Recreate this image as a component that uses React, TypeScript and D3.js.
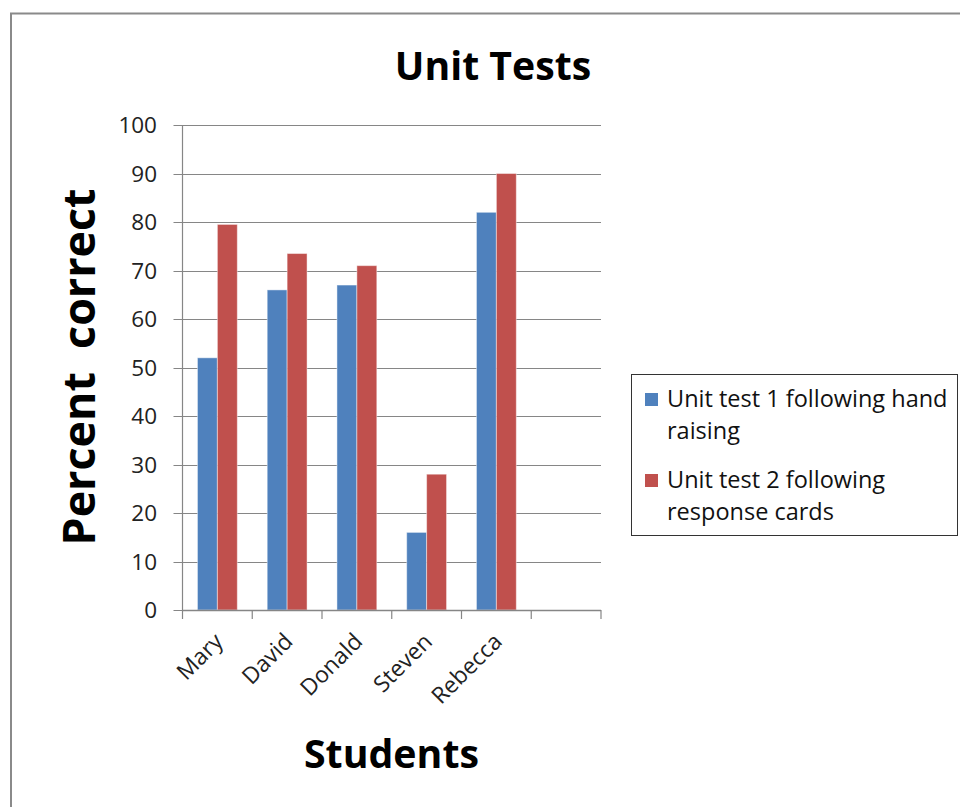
import React from "react";
import * as d3 from "d3";

const categories = ["Mary", "David", "Donald", "Steven", "Rebecca", ""];
const seriesNames = ["Unit test 1 following hand raising", "Unit test 2 following response cards"];
const test1Values = [52, 66, 67, 16, 82, null];
const test2Values = [79.5, 73.5, 71, 28, 90, null];
const yTicks = [0, 10, 20, 30, 40, 50, 60, 70, 80, 90, 100];
const legendLines = [
  ["Unit test 1 following hand", "raising"],
  ["Unit test 2 following", "response cards"],
];
const colors = ["#4F81BD", "#C0504D"];

const FONT = "'Open Sans', 'DejaVu Sans', sans-serif";

export default function App() {
  const left = 182.5;
  const right = 601;
  const top = 125;
  const bottom = 610;

  const x0 = d3.scaleBand<string>().domain(categories.map((c, i) => String(i))).range([left, right]).padding(0);
  const bw = x0.bandwidth();
  const barW = bw / 3.5;
  const gap = barW * 0.75;
  const x1 = d3.scaleBand<string>().domain(["0", "1"]).range([gap, gap + 2 * barW]).padding(0);
  const y = d3.scaleLinear().domain([0, 100]).range([bottom, top]);

  const series = [test1Values, test2Values];
  const boundaries = categories.map((_, i) => x0(String(i)) as number).concat([right]);

  return (
    <svg width={960} height={807} style={{ position: "absolute", left: 0, top: 0, background: "#fff" }} fontFamily={FONT}>
      <rect x={0} y={0} width={960} height={807} fill="#fff" />
      <rect x={11} y={13.5} width={980} height={820} fill="none" stroke="#8a8a8a" strokeWidth={2} />

      <text x={493} y={80} textAnchor="middle" fontSize={39.2} fontWeight={700} fill="#000">Unit Tests</text>

      {/* gridlines */}
      {yTicks.map((t) => (
        <line key={"g" + t} x1={left - 9} x2={right} y1={Math.round(y(t)) + 0.5} y2={Math.round(y(t)) + 0.5} stroke="#868686" strokeWidth={1.2} />
      ))}
      {yTicks.map((t) => (
        <text key={"t" + t} x={157} y={y(t)} dy="0.36em" textAnchor="end" fontSize={22.5} fill="#222">{t}</text>
      ))}

      {/* bars */}
      {series.map((vals, s) =>
        vals.map((v, i) =>
          v == null ? null : (
            <rect
              key={`b${s}-${i}`}
              x={(x0(String(i)) as number) + (x1(String(s)) as number)}
              y={y(v)}
              width={x1.bandwidth()}
              height={bottom - y(v)}
              fill={colors[s]}
              stroke="rgba(255,255,255,0.45)"
              strokeWidth={1}
            />
          )
        )
      )}

      {/* axes */}
      <line x1={left} x2={left} y1={top} y2={bottom} stroke="#868686" strokeWidth={1.2} />
      <line x1={left} x2={right} y1={bottom + 0.5} y2={bottom + 0.5} stroke="#868686" strokeWidth={1.5} />
      {boundaries.map((b, i) => (
        <line key={"xt" + i} x1={b} x2={b} y1={bottom} y2={bottom + 9} stroke="#868686" strokeWidth={1.2} />
      ))}

      {categories.map((c, i) =>
        c ? (
          <text
            key={"c" + i}
            transform={`translate(${(x0(String(i)) as number) + bw / 2 + 7},${643}) rotate(-45)`}
            textAnchor="end"
            fontSize={22.8}
            fill="#222"
          >
            {c}
          </text>
        ) : null
      )}

      <text x={391.5} y={768} textAnchor="middle" fontSize={39.3} fontWeight={700} fill="#000">Students</text>
      <text transform={`translate(95,367) rotate(-90)`} textAnchor="middle" fontSize={44.8} fontWeight={700} fill="#000" style={{ whiteSpace: "pre" }}>
        {"Percent  correct"}
      </text>

      {/* legend */}
      <rect x={631.5} y={374.5} width={326} height={161} fill="#fff" stroke="#333" strokeWidth={1} />
      {legendLines.map((lines, s) => (
        <g key={"l" + s} transform={`translate(0,${s * 81})`}>
          <rect x={645} y={393} width={13} height={13} fill={colors[s]} />
          {lines.map((ln, j) => (
            <text key={j} x={667} y={407 + j * 32} fontSize={23.5} fill="#111">{ln}</text>
          ))}
        </g>
      ))}
    </svg>
  );
}
